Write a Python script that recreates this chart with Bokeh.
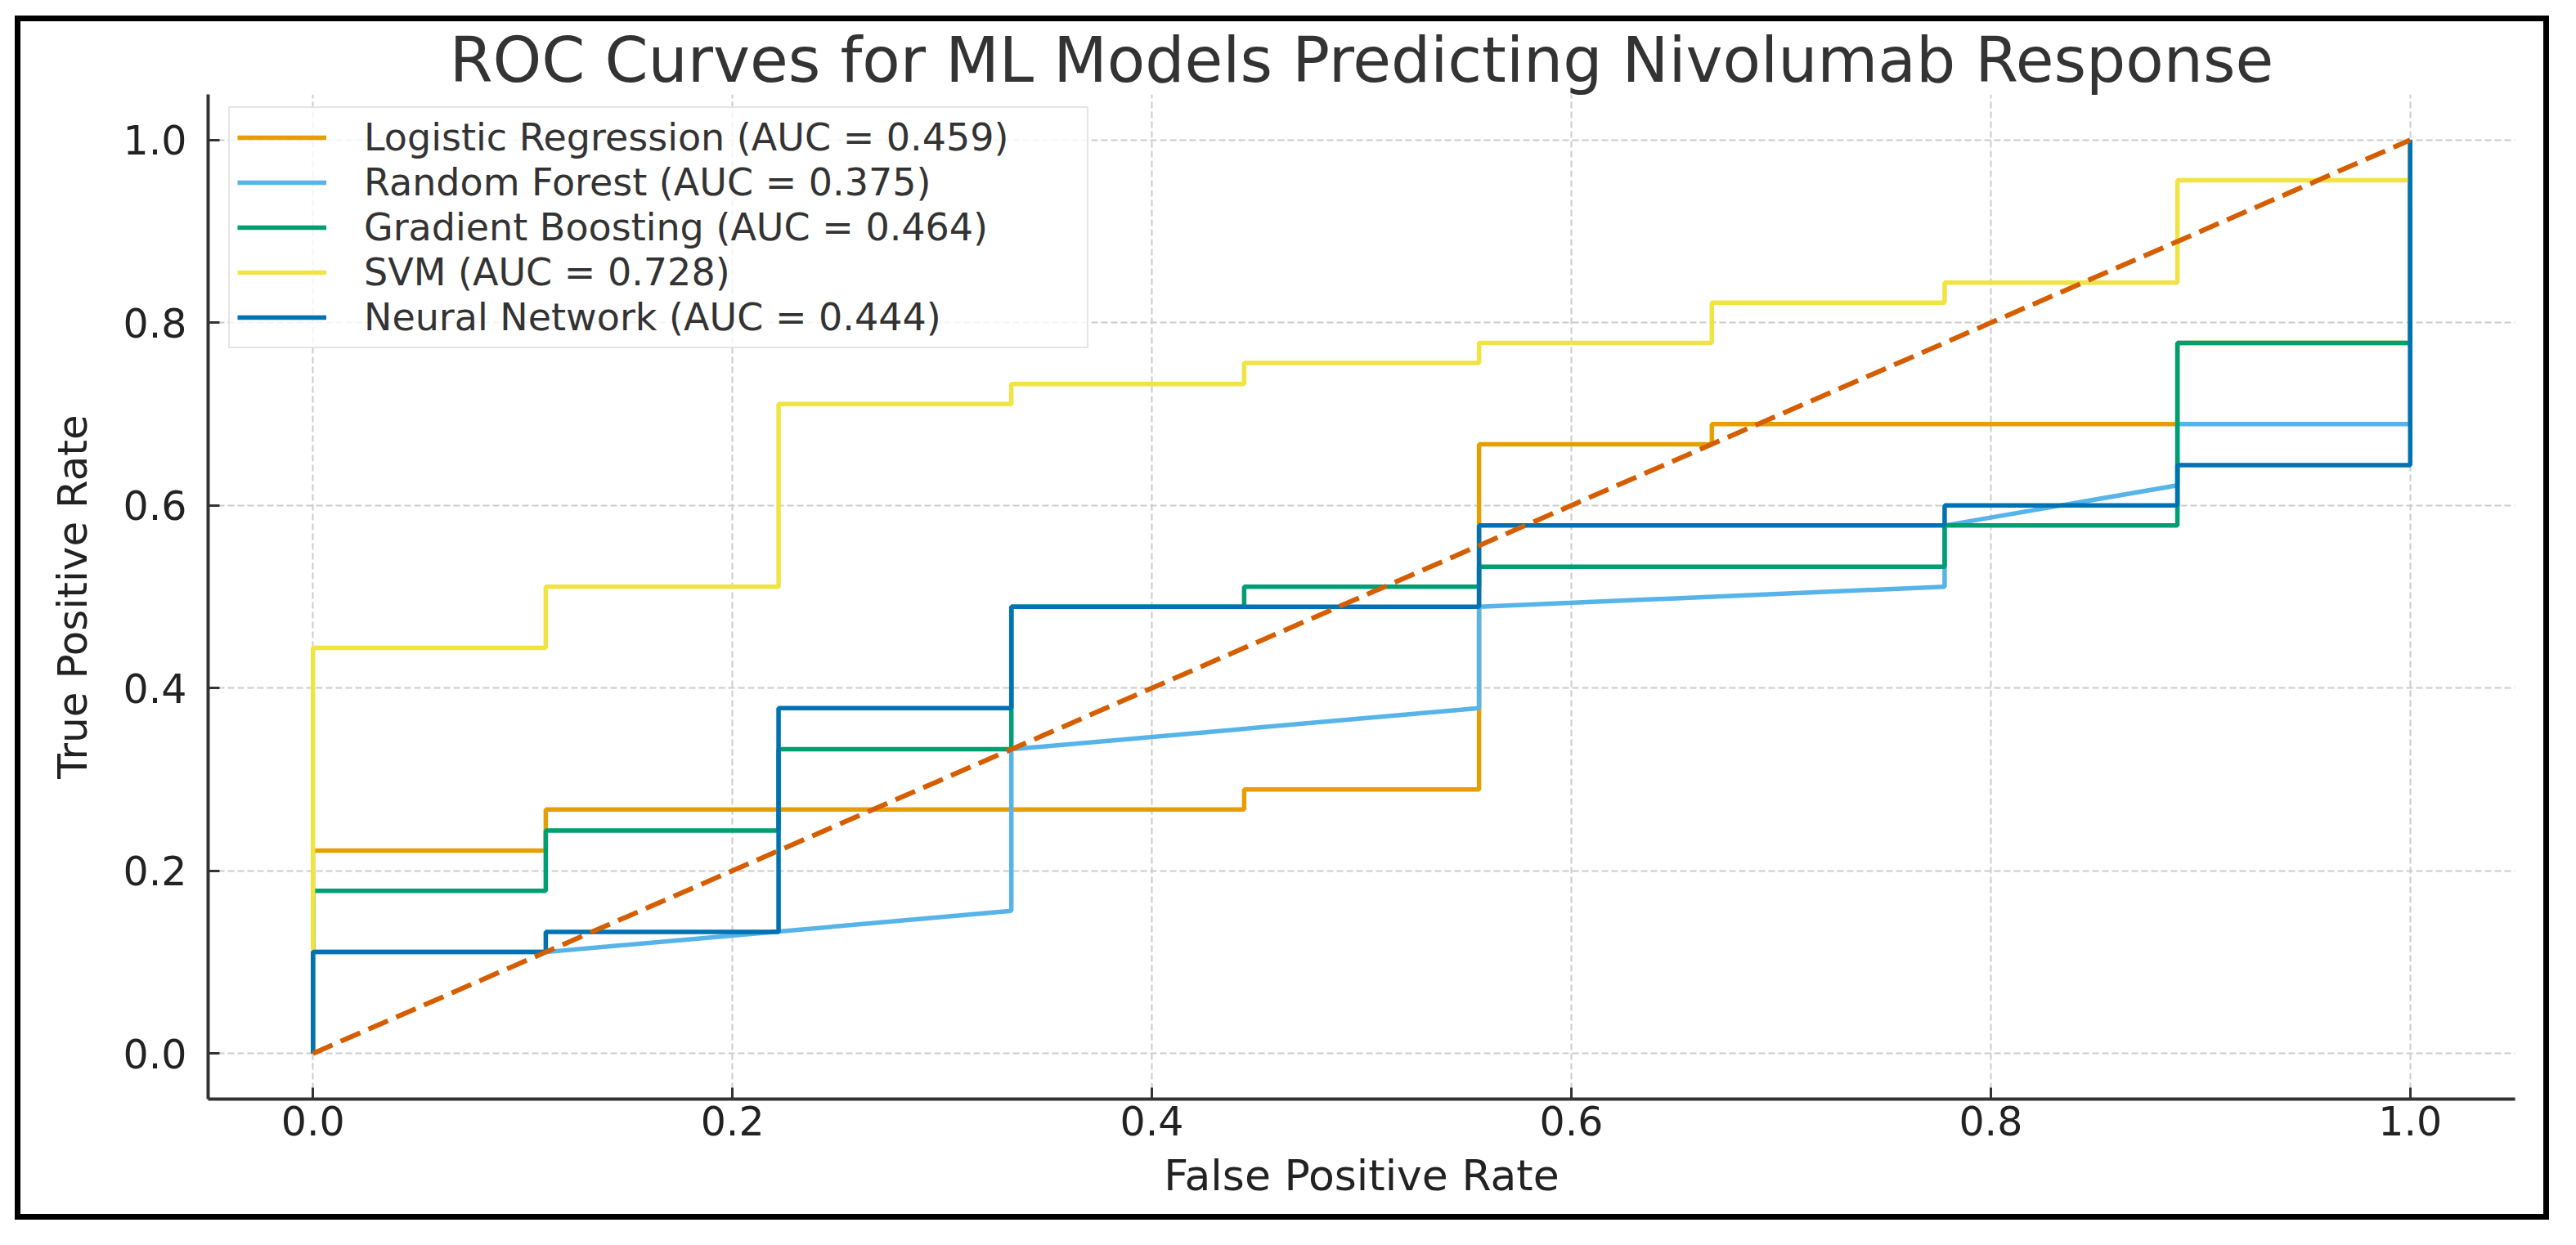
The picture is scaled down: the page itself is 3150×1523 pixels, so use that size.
from bokeh.plotting import figure
from bokeh.layouts import column
from bokeh.models import FixedTicker, PrintfTickFormatter, Legend, LegendItem
from bokeh.embed import file_html
from bokeh.resources import INLINE

# ---------------- data ----------------
title_text = "ROC Curves for ML Models Predicting Nivolumab Response"
x_label = "False Positive Rate"
y_label = "True Positive Rate"
tick_values = [0.0, 0.2, 0.4, 0.6, 0.8, 1.0]

model_names = ["Logistic Regression", "Random Forest", "Gradient Boosting", "SVM", "Neural Network"]
model_auc = [0.459, 0.375, 0.464, 0.728, 0.444]
model_colors = ["#E69F00", "#56B4E9", "#009E73", "#F0E442", "#0072B2"]

lr_fpr = [0.0, 0.0, 0.111, 0.111, 0.444, 0.444, 0.556, 0.556, 0.667, 0.667, 0.889, 0.889, 1.0, 1.0]
lr_tpr = [0.0, 0.222, 0.222, 0.267, 0.267, 0.289, 0.289, 0.667, 0.667, 0.689, 0.689, 0.778, 0.778, 1.0]

rf_fpr = [0.0, 0.0, 0.111, 0.333, 0.333, 0.556, 0.556, 0.778, 0.778, 0.889, 0.889, 1.0, 1.0]
rf_tpr = [0.0, 0.111, 0.111, 0.156, 0.333, 0.378, 0.489, 0.511, 0.578, 0.622, 0.689, 0.689, 1.0]

gb_fpr = [0.0, 0.0, 0.111, 0.111, 0.222, 0.222, 0.333, 0.333, 0.444, 0.444, 0.556, 0.556, 0.778, 0.778, 0.889, 0.889, 1.0, 1.0]
gb_tpr = [0.0, 0.178, 0.178, 0.244, 0.244, 0.333, 0.333, 0.489, 0.489, 0.511, 0.511, 0.533, 0.533, 0.578, 0.578, 0.778, 0.778, 1.0]

svm_fpr = [0.0, 0.0, 0.111, 0.111, 0.222, 0.222, 0.333, 0.333, 0.444, 0.444, 0.556, 0.556, 0.667, 0.667, 0.778, 0.778, 0.889, 0.889, 1.0, 1.0]
svm_tpr = [0.0, 0.444, 0.444, 0.511, 0.511, 0.711, 0.711, 0.733, 0.733, 0.756, 0.756, 0.778, 0.778, 0.822, 0.822, 0.844, 0.844, 0.956, 0.956, 1.0]

nn_fpr = [0.0, 0.0, 0.111, 0.111, 0.222, 0.222, 0.333, 0.333, 0.556, 0.556, 0.778, 0.778, 0.889, 0.889, 1.0, 1.0]
nn_tpr = [0.0, 0.111, 0.111, 0.133, 0.133, 0.378, 0.378, 0.489, 0.489, 0.578, 0.578, 0.600, 0.600, 0.644, 0.644, 1.0]

chance_fpr = [0.0, 1.0]
chance_tpr = [0.0, 1.0]
chance_color = "#D55E00"

curves = [(lr_fpr, lr_tpr), (rf_fpr, rf_tpr), (gb_fpr, gb_tpr), (svm_fpr, svm_tpr), (nn_fpr, nn_tpr)]

FONT = "DejaVu Sans"

# ---------------- figure ----------------
p = figure(
    frame_width=2821, frame_height=1229,
    min_border_left=229, min_border_right=35, min_border_top=89, min_border_bottom=141,
    x_range=(-0.05, 1.05), y_range=(-0.05, 1.05),
    output_backend="svg", toolbar_location=None,
    title=title_text,
)
p.background_fill_color = "white"
p.border_fill_color = "white"
p.outline_line_color = None

p.title.align = "center"
p.title.text_font = FONT
p.title.text_font_size = "76px"
p.title.text_font_style = "normal"
p.title.text_color = "#333333"
p.title.standoff = -4

for ax in (p.xaxis[0], p.yaxis[0]):
    ax.ticker = FixedTicker(ticks=tick_values)
    ax.formatter = PrintfTickFormatter(format="%.1f")
    ax.axis_line_width = 4
    ax.axis_line_color = "#333333"
    ax.major_tick_in = 14
    ax.major_tick_out = 0
    ax.major_tick_line_width = 3
    ax.major_tick_line_color = "#333333"
    ax.minor_tick_line_color = None
    ax.major_label_text_font = FONT
    ax.major_label_text_font_size = "49px"
    ax.major_label_text_color = "#222222"
    ax.axis_label_text_font = FONT
    ax.axis_label_text_font_style = "normal"
    ax.axis_label_text_color = "#222222"

p.xaxis.axis_label = x_label
p.yaxis.axis_label = y_label
p.xaxis.major_label_standoff = 8
p.xaxis.axis_label_standoff = 16
p.xaxis.axis_label_text_font_size = "52px"
p.yaxis.major_label_standoff = 26
p.yaxis.axis_label_standoff = 30
p.yaxis.axis_label_text_font_size = "50px"

for g in (p.xgrid[0], p.ygrid[0]):
    g.ticker = FixedTicker(ticks=tick_values)
    g.grid_line_color = "#cccccc"
    g.grid_line_width = 2
    g.grid_line_dash = "8 4"

# ---------------- curves ----------------
items = []
for (fx, ty), name, auc, col in zip(curves, model_names, model_auc, model_colors):
    r = p.line(fx, ty, line_color=col, line_width=5.5)
    items.append(LegendItem(label=f"{name} (AUC = {auc:.3f})", renderers=[r]))

p.line(chance_fpr, chance_tpr, line_color=chance_color, line_width=6, line_dash="26 11")

legend = Legend(
    items=items, location=(25, 918), margin=0, padding=9, spacing=1,
    glyph_width=109, glyph_height=40, label_height=40, label_width=875,
    label_standoff=46, label_text_font=FONT, label_text_font_size="46px",
    label_text_color="#333333", border_line_color="#cccccc", border_line_width=2,
    background_fill_color="white", background_fill_alpha=0.8,
)
p.add_layout(legend)

# black picture frame around the whole chart
page = column(p, margin=(19, 0, 0, 18), styles={"border": "7px solid black"})

open("out.html", "w").write(file_html(page, INLINE))
